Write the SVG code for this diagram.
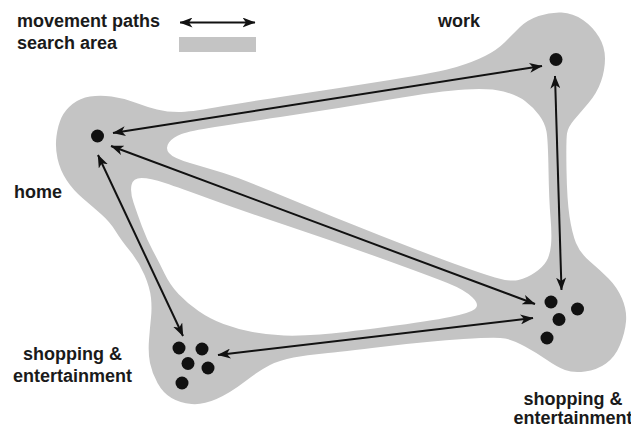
<svg xmlns="http://www.w3.org/2000/svg" width="631" height="433" viewBox="0 0 631 433">
<style>
.lbl{font-family:"Liberation Sans",Arial,Helvetica,sans-serif;font-weight:bold;font-size:18px;fill:#1a1a1a}
.area{fill:#c4c4c4;fill-rule:evenodd;stroke:none}
.path{stroke:#111;stroke-width:2;fill:none;marker-start:url(#ah);marker-end:url(#ah)}
.dot{fill:#111}
</style>
<defs>
<marker id="ah" viewBox="0 0 13 10" refX="12.5" refY="5" markerWidth="13" markerHeight="10" markerUnits="userSpaceOnUse" orient="auto-start-reverse">
<path d="M0,0 L13,5 L0,10 L3.5,5 Z" fill="#111"/>
</marker>
</defs>
<rect width="631" height="433" fill="#fff"/>
<g id="legend">
<text class="lbl" x="17" y="27">movement paths</text>
<text class="lbl" x="17" y="49">search area</text>
<line class="path" x1="180" y1="22.5" x2="255" y2="22.5"/>
<rect x="179" y="37" width="77" height="15" fill="#c4c4c4"/>
</g>
<g id="search-area">
<path class="area" d="M57.5,158.5 Q55,147 56.5,136 Q58,125 61.5,117.5 Q65,110 72.5,104 Q80,98 90,96.5 Q100,95 111.5,96.5 Q123,98 135,102.5 Q147,107 157,109.5 Q167,112 178.5,112 Q190,112 215,107.5 Q240,103 290,95.5 Q340,88 390,80 Q440,72 456.5,67 Q473,62 485,56 Q497,50 504.5,42.5 Q512,35 519.5,27.5 Q527,20 538.5,16 Q550,12 561.5,12.5 Q573,13 583,20 Q593,27 599,37 Q605,47 605,58.5 Q605,70 601,81.5 Q597,93 588.5,103 Q580,113 574,120 Q568,127 567,133.5 Q566,140 566.5,170 Q567,200 569.5,216.5 Q572,233 576,243 Q580,253 590,261.5 Q600,270 608.5,278.5 Q617,287 622,298.5 Q627,310 626,321.5 Q625,333 620,345 Q615,357 606,363.5 Q597,370 585,371.5 Q573,373 565,370 Q557,367 547,360 Q537,353 525,346.5 Q513,340 505,338.5 Q497,337 463.5,339 Q430,341 385,346.5 Q340,352 323.5,353.5 Q307,355 293.5,357.5 Q280,360 270,365 Q260,370 245,381.5 Q230,393 216.5,399 Q203,405 191.5,404 Q180,403 171.5,398 Q163,393 157.5,383 Q152,373 150,363 Q148,353 149,340 Q150,327 151,317.5 Q152,308 151,298 Q150,288 144.5,275 Q139,262 130,251 Q121,240 115.5,231 Q110,222 101.5,214.5 Q93,207 83,198.5 Q73,190 66.5,180 Q60,170 57.5,158.5 Z
M169,153 Q165,148 169,142.5 Q173,137 181.5,134 Q190,131 215,127 Q240,123 290,115.5 Q340,108 390,99.5 Q440,91 465,89.5 Q490,88 503.5,91.5 Q517,95 525,101 Q533,107 539,115 Q545,123 546.5,131.5 Q548,140 548.5,170 Q549,200 550.5,217.5 Q552,235 551,245 Q550,255 546.5,261 Q543,267 535,272.5 Q527,278 518.5,280 Q510,282 495,277.5 Q480,273 455,264 Q430,255 381.5,236 Q333,217 286.5,197.5 Q240,178 223.5,173 Q207,168 190,163 Q173,158 169,153 Z
M131.5,185 Q133,178 141.5,178 Q150,178 165,183 Q180,188 210,199 Q240,210 286.5,225.5 Q333,241 381.5,258.5 Q430,276 447.5,283 Q465,290 472.5,297.5 Q480,305 475,309 Q470,313 450,317 Q430,321 385,327 Q340,333 320,334.5 Q300,336 284,335.5 Q268,335 252.5,332 Q237,329 223.5,324 Q210,319 198.5,311 Q187,303 178.5,294 Q170,285 164.5,273.5 Q159,262 153,251 Q147,240 142,226.5 Q137,213 133.5,202.5 Q130,192 131.5,185 Z"/>
</g>
<g id="connectors">
<line class="path" x1="113" y1="133" x2="542" y2="66"/>
<line class="path" x1="555" y1="76" x2="561.5" y2="290"/>
<line class="path" x1="111" y1="146" x2="535" y2="304"/>
<line class="path" x1="98" y1="155" x2="183" y2="336"/>
<line class="path" x1="218" y1="355" x2="533" y2="318"/>
</g>
<g id="home">
<circle class="dot" cx="97.5" cy="136" r="6.5"/>
<text class="lbl" x="14" y="198">home</text>
</g>
<g id="work">
<circle class="dot" cx="556" cy="59.5" r="6.5"/>
<text class="lbl" x="438" y="27">work</text>
</g>
<g id="shopping-left">
<circle class="dot" cx="179" cy="348" r="6.5"/>
<circle class="dot" cx="202" cy="349" r="6.5"/>
<circle class="dot" cx="188" cy="363.5" r="6.5"/>
<circle class="dot" cx="208" cy="368" r="6.5"/>
<circle class="dot" cx="182" cy="383" r="6.5"/>
<text class="lbl" text-anchor="middle" x="72.5" y="360">shopping &amp;</text>
<text class="lbl" text-anchor="middle" x="72.5" y="382">entertainment</text>
</g>
<g id="shopping-right">
<circle class="dot" cx="551" cy="302" r="6.5"/>
<circle class="dot" cx="577.5" cy="309" r="6.5"/>
<circle class="dot" cx="559" cy="319.5" r="6.5"/>
<circle class="dot" cx="547" cy="338" r="6.5"/>
<text class="lbl" text-anchor="middle" x="573" y="405">shopping &amp;</text>
<text class="lbl" text-anchor="middle" x="573" y="424">entertainment</text>
</g>
</svg>
